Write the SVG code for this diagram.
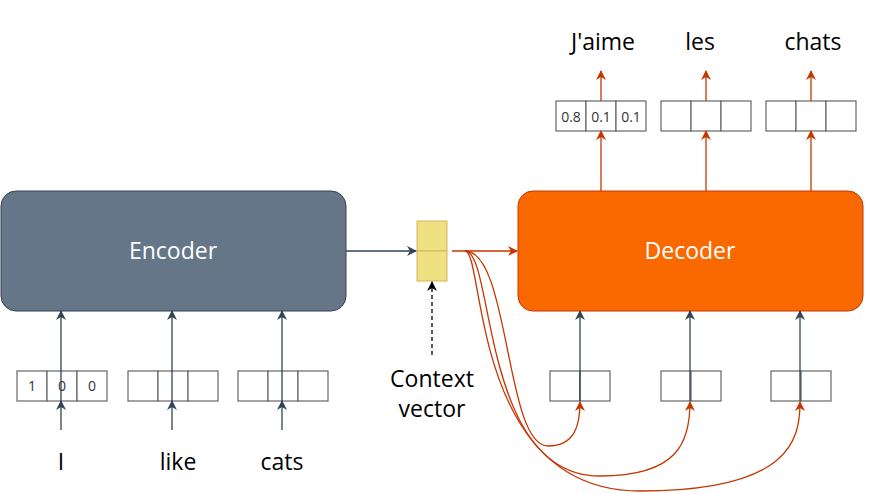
<svg xmlns="http://www.w3.org/2000/svg" width="881" height="494" viewBox="0 0 881 494">
<style>
text{font-family:"Open Sans","DejaVu Sans",sans-serif;fill:#000}
.lbl{font-size:23px;text-anchor:middle}
.num{font-size:14px;text-anchor:middle;fill:#333}
.cell{fill:#fff;stroke:#666;stroke-width:1.2}
.g{stroke:#314354;stroke-width:1.3;fill:none;marker-end:url(#ag)}
.r{stroke:#c73500;stroke-width:1.3;fill:none;marker-end:url(#ar)}
</style>
<defs>
<marker id="ag" viewBox="0 0 10 10" refX="9" refY="5" markerWidth="10" markerHeight="10" markerUnits="userSpaceOnUse" orient="auto"><path d="M0,0 L10,5 L0,10 L3,5Z" fill="#314354"/></marker>
<marker id="ar" viewBox="0 0 10 10" refX="9" refY="5" markerWidth="10" markerHeight="10" markerUnits="userSpaceOnUse" orient="auto"><path d="M0,0 L10,5 L0,10 L3,5Z" fill="#c73500"/></marker>
<marker id="ak" viewBox="0 0 10 10" refX="9" refY="5" markerWidth="10" markerHeight="10" markerUnits="userSpaceOnUse" orient="auto"><path d="M0,0 L10,5 L0,10 L3,5Z" fill="#000"/></marker>
</defs>
<g id="encoder"><rect x="1" y="191" width="345" height="120" rx="15" fill="#647687" stroke="#314354"/><text x="173" y="259" class="lbl" style="fill:#fff">Encoder</text></g>
<g id="decoder"><rect x="518" y="191" width="345" height="120" rx="15" fill="#fa6800" stroke="#c73500"/><text x="690" y="259" class="lbl" style="fill:#fff">Decoder</text></g>
<g id="context"><rect x="417" y="221" width="30" height="30" fill="#f0e084" stroke="#d6b656"/><rect x="417" y="251" width="30" height="30" fill="#f0e084" stroke="#d6b656"/><text x="432" y="387" class="lbl">Context</text><text x="432" y="417" class="lbl">vector</text></g>
<g id="enc-in">
<rect class="cell" x="17" y="371" width="30" height="30"/><rect class="cell" x="47" y="371" width="30" height="30"/><rect class="cell" x="77" y="371" width="30" height="30"/>
<text class="num" x="32" y="391">1</text><text class="num" x="62" y="391">0</text><text class="num" x="92" y="391">0</text>
<rect class="cell" x="128" y="371" width="30" height="30"/><rect class="cell" x="158" y="371" width="30" height="30"/><rect class="cell" x="188" y="371" width="30" height="30"/>
<rect class="cell" x="238" y="371" width="30" height="30"/><rect class="cell" x="268" y="371" width="30" height="30"/><rect class="cell" x="298" y="371" width="30" height="30"/>
<text class="lbl" x="61" y="470">I</text><text class="lbl" x="178" y="470">like</text><text class="lbl" x="282" y="470">cats</text>
</g>
<g id="dec-in">
<rect class="cell" x="550" y="371" width="30" height="30"/><rect class="cell" x="580" y="371" width="30" height="30"/>
<rect class="cell" x="661" y="371" width="30" height="30"/><rect class="cell" x="691" y="371" width="30" height="30"/>
<rect class="cell" x="771" y="371" width="30" height="30"/><rect class="cell" x="801" y="371" width="30" height="30"/>
</g>
<g id="dec-out">
<rect class="cell" x="556" y="101" width="30" height="30"/><rect class="cell" x="586" y="101" width="30" height="30"/><rect class="cell" x="616" y="101" width="30" height="30"/>
<text class="num" x="571" y="122">0.8</text><text class="num" x="601" y="122">0.1</text><text class="num" x="631" y="122">0.1</text>
<rect class="cell" x="661" y="101" width="30" height="30"/><rect class="cell" x="691" y="101" width="30" height="30"/><rect class="cell" x="721" y="101" width="30" height="30"/>
<rect class="cell" x="766" y="101" width="30" height="30"/><rect class="cell" x="796" y="101" width="30" height="30"/><rect class="cell" x="826" y="101" width="30" height="30"/>
<text class="lbl" x="603" y="50">J'aime</text><text class="lbl" x="700" y="50">les</text><text class="lbl" x="813" y="50">chats</text>
</g>
<g id="connectors">
<path class="g" d="M61,401V311"/><path class="g" d="M172,401V311"/><path class="g" d="M282,401V311"/>
<path class="g" d="M61,430V401"/><path class="g" d="M172,430V401"/><path class="g" d="M282,430V401"/>
<path class="g" d="M346,251H416"/>
<path class="g" d="M580,401V311"/><path class="g" d="M690,401V311"/><path class="g" d="M800,401V311"/>
<path d="M432,355V282" stroke="#000" stroke-width="1.3" stroke-dasharray="4 3" fill="none" marker-end="url(#ak)"/>
<path class="r" d="M452,251H517"/>
<path class="r" d="M601,191V131"/><path class="r" d="M706,191V131"/><path class="r" d="M811,191V131"/>
<path class="r" d="M601,101V71"/><path class="r" d="M706,101V71"/><path class="r" d="M811,101V71"/>
<path class="r" d="M465,251C510,251 505,446 548,446C575,446 580,425 580,402"/>
<path class="r" d="M465,251C495,251 480,476 600,476C680,476 690,440 690,402"/>
<path class="r" d="M465,251C485,251 470,491 640,491C790,491 800,440 800,402"/>
</g>
</svg>
